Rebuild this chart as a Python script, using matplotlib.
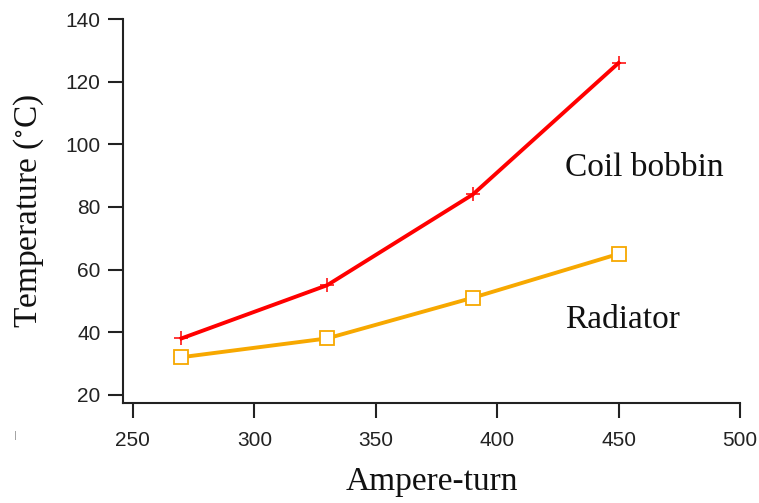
import matplotlib
matplotlib.use("Agg")
import matplotlib.pyplot as plt

plt.rcParams["mathtext.fontset"] = "stix"

ampere_turn = [270, 330, 390, 450]
coil_bobbin = [38, 55, 84, 126]
radiator = [32, 38, 51, 65]
x_ticks = [250, 300, 350, 400, 450, 500]
y_ticks = [20, 40, 60, 80, 100, 120, 140]

fig = plt.figure(figsize=(7.59, 5.03), dpi=100)
ax = fig.add_axes([0.162, 0.199, 0.813, 0.763])

ax.plot(ampere_turn, coil_bobbin, color="#FF0000", lw=2.8, marker="+",
        ms=10, mew=1.1, zorder=3)
ax.plot(ampere_turn, radiator, color="#F7A800", lw=2.8, marker="s",
        ms=10, mfc="white", mec="#F7A800", mew=1.3, zorder=3)

ax.set_xlim(245.9, 500)
ax.set_ylim(17.4, 140)
ax.set_xticks(x_ticks)
ax.set_yticks(y_ticks)

for s in ["top", "right"]:
    ax.spines[s].set_visible(False)
for s in ["left", "bottom"]:
    ax.spines[s].set_linewidth(1.5)
    ax.spines[s].set_color("#222222")

ax.tick_params(axis="both", direction="out", length=11, width=1.5,
               color="#222222", labelsize=15, labelcolor="#222222")
ax.tick_params(axis="x", pad=9)
ax.tick_params(axis="y", pad=5)
for lab in ax.get_xticklabels() + ax.get_yticklabels():
    lab.set_family("Liberation Sans")

ax.set_xlabel("Ampere-turn", family="Liberation Serif", fontsize=24,
              labelpad=12, color="#111111")
ax.set_ylabel(r"Temperature ($^{\circ}$C)", family="Liberation Serif", fontsize=24,
              labelpad=14, color="#111111")

ax.text(0.716, 0.612, "Coil bobbin", transform=ax.transAxes,
        family="Liberation Serif", fontsize=24, va="center", ha="left", color="#111111")
ax.text(0.716, 0.216, "Radiator", transform=ax.transAxes,
        family="Liberation Serif", fontsize=24, va="center", ha="left", color="#111111")

fig.text(0.02, 0.135, "|", fontsize=6, color="#888888", ha="center", va="center")

fig.savefig("out.png", dpi=100)
